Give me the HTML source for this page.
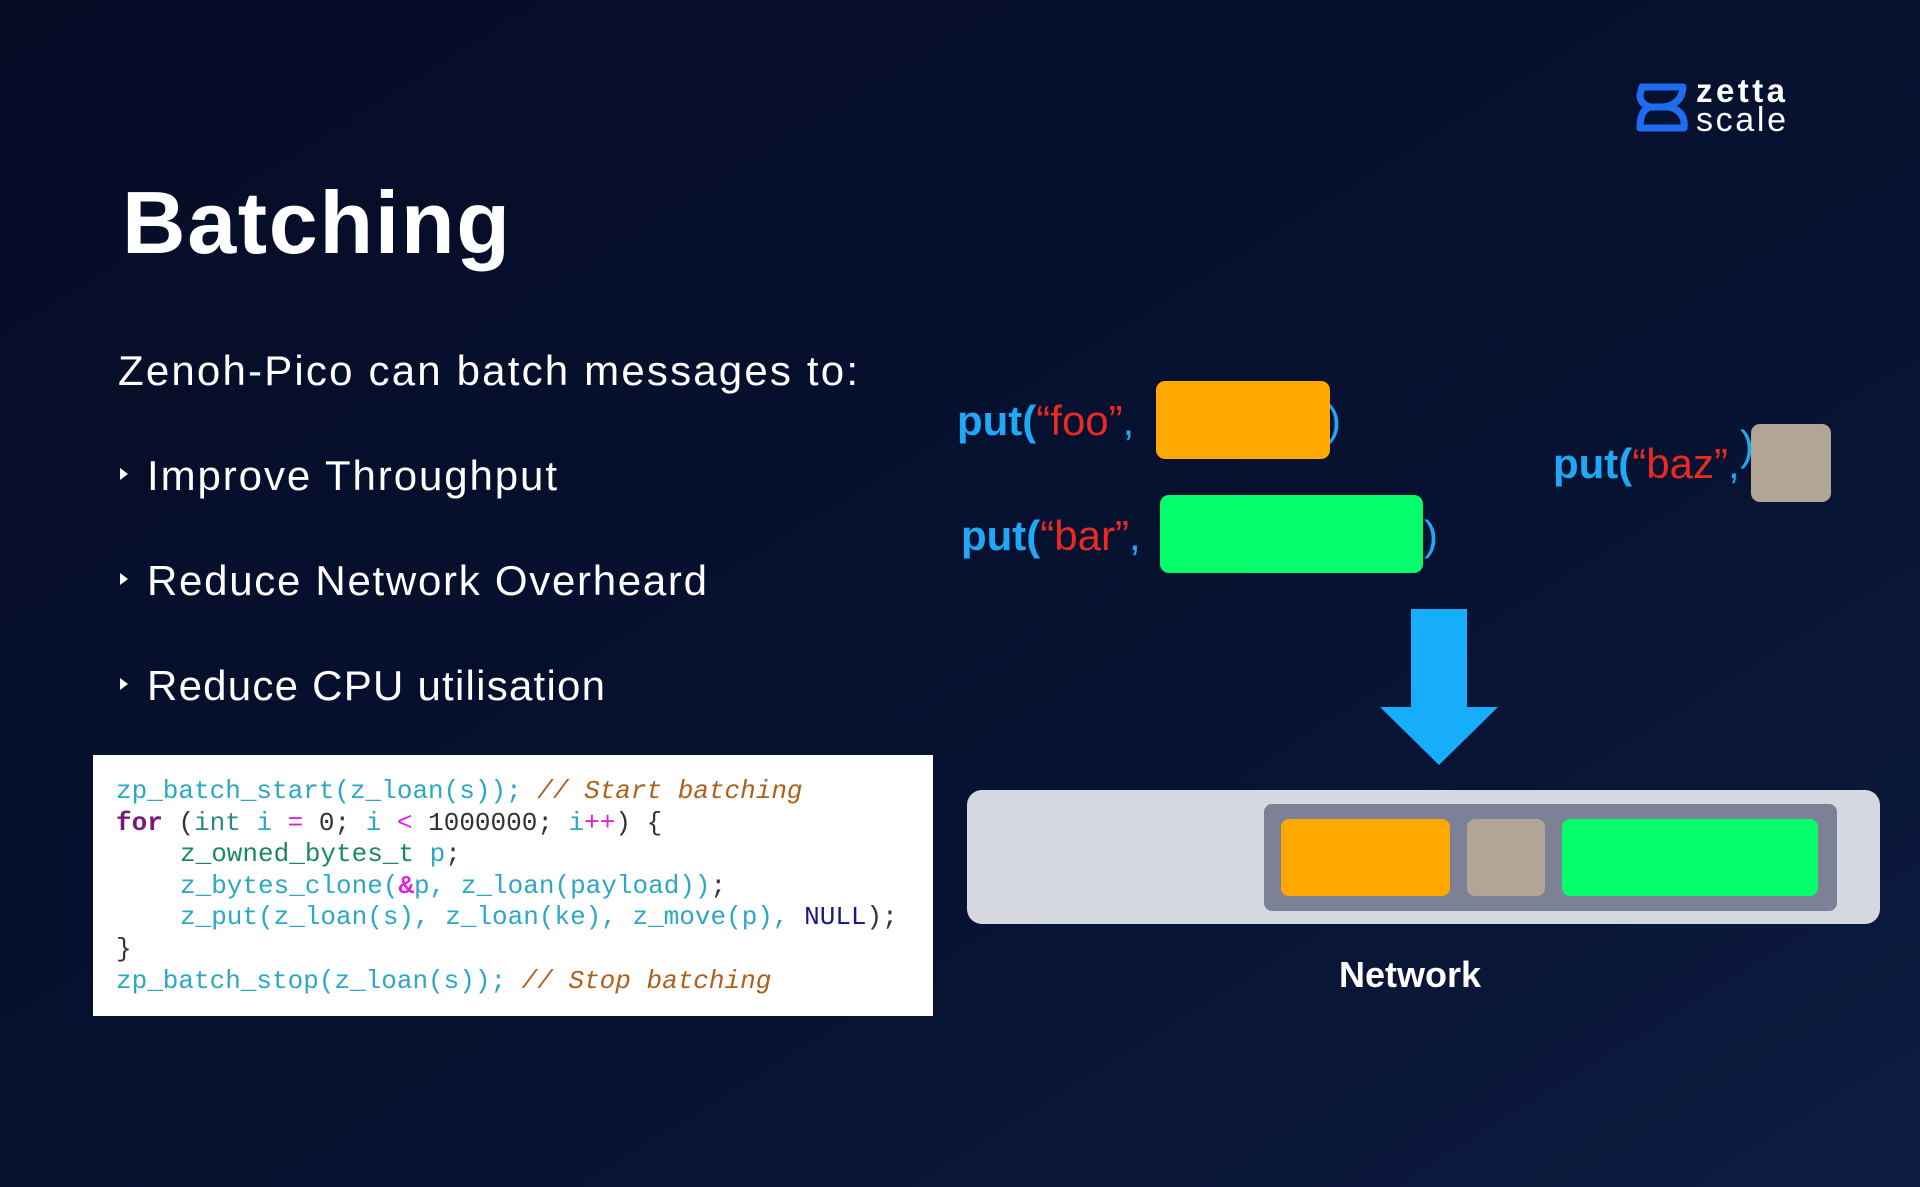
<!DOCTYPE html>
<html><head><meta charset="utf-8"><style>
html,body{margin:0;padding:0;width:1920px;height:1187px;overflow:hidden;background:#060f2c}
svg{display:block}
</style></head><body>
<svg width="1920" height="1187" viewBox="0 0 1920 1187" xmlns="http://www.w3.org/2000/svg">
<defs>
<linearGradient id="bg" x1="0" y1="0" x2="1" y2="1">
<stop offset="0" stop-color="#050c26"/><stop offset="0.6" stop-color="#071232"/><stop offset="1" stop-color="#0d1c40"/>
</linearGradient>
</defs>
<rect width="1920" height="1187" fill="url(#bg)"/>

<!-- logo -->
<g fill="none" stroke="#1e6cf0" stroke-width="7" stroke-linejoin="round">
<path d="M1642 87 L1683 87 Q1682 104 1664 107 L1650 107 Q1640 104 1640 95 Z"/>
<path d="M1650 107 L1670 107 Q1686 112 1684 128 L1640 128 Q1640 110 1650 107 Z"/>
</g>
<text x="1696" y="102" font-family="Liberation Sans, sans-serif" font-weight="bold" font-size="33" fill="#fff" textLength="89">zetta</text>
<text x="1696" y="131" font-family="Liberation Sans, sans-serif" font-size="34" fill="#fff" textLength="90">scale</text>

<g font-family="Liberation Sans, sans-serif" fill="#fff">
<text x="122" y="253" font-size="88" font-weight="bold" textLength="388">Batching</text>
<text x="118" y="385" font-size="42" textLength="740">Zenoh-Pico can batch messages to:</text>
<text x="147" y="490" font-size="42" textLength="410">Improve Throughput</text>
<text x="147" y="595" font-size="42" textLength="560">Reduce Network Overheard</text>
<text x="147" y="700" font-size="42" textLength="458">Reduce CPU utilisation</text>
</g>
<g fill="#fff">
<polygon points="120,468 128,474 120,480"/>
<polygon points="120,573 128,579 120,585"/>
<polygon points="120,678 128,684 120,690"/>
</g>

<!-- code -->
<rect x="93" y="755" width="840" height="261" fill="#fff"/>
<g font-family="Liberation Mono, monospace" font-size="26" xml:space="preserve">
<text x="116" y="798" fill="#2aa8c4">zp_batch_start(z_loan(s)); <tspan fill="#b0601a" font-style="italic">// Start batching</tspan></text>
<text x="116" y="830" fill="#2aa8c4"><tspan fill="#7a1a78" font-weight="bold">for</tspan> <tspan fill="#333">(</tspan><tspan fill="#2a8a8a">int</tspan> i <tspan fill="#e020e0">=</tspan> <tspan fill="#333">0;</tspan> i <tspan fill="#e020e0">&lt;</tspan> <tspan fill="#333">1000000;</tspan> i<tspan fill="#e020e0">++</tspan><tspan fill="#333">) {</tspan></text>
<text x="180" y="861" fill="#1a8a5a">z_owned_bytes_t <tspan fill="#2aa8c4">p</tspan><tspan fill="#333">;</tspan></text>
<text x="180" y="893" fill="#2aa8c4">z_bytes_clone(<tspan fill="#e020e0" font-weight="bold">&amp;</tspan>p, z_loan(payload))<tspan fill="#333">;</tspan></text>
<text x="180" y="924" fill="#2aa8c4">z_put(z_loan(s), z_loan(ke), z_move(p), <tspan fill="#1a1a80">NULL</tspan><tspan fill="#333">);</tspan></text>
<text x="116" y="956" fill="#333">}</text>
<text x="116" y="988" fill="#2aa8c4">zp_batch_stop(z_loan(s)); <tspan fill="#b0601a" font-style="italic">// Stop batching</tspan></text>
</g>

<!-- puts -->
<g font-family="Liberation Sans, sans-serif" font-size="42">
<text x="957" y="435"><tspan fill="#1ea8f5" font-weight="bold">put(</tspan><tspan fill="#e82a20">“foo”</tspan><tspan fill="#1ea8f5">,</tspan></text>
<text x="961" y="550"><tspan fill="#1ea8f5" font-weight="bold">put(</tspan><tspan fill="#e82a20">“bar”</tspan><tspan fill="#1ea8f5">,</tspan></text>
<text x="1553" y="478"><tspan fill="#1ea8f5" font-weight="bold">put(</tspan><tspan fill="#e82a20">“baz”</tspan><tspan fill="#1ea8f5">,</tspan></text>
<text x="1327" y="435" fill="#1ea8f5">)</text>
<text x="1424" y="550" fill="#1ea8f5">)</text>
<text x="1740" y="460" fill="#1ea8f5">)</text>
</g>
<rect x="1156" y="381" width="174" height="78" rx="9" fill="#ffa800"/>
<rect x="1160" y="495" width="263" height="78" rx="9" fill="#05ff6a"/>
<rect x="1751" y="424" width="80" height="78" rx="9" fill="#b3a596"/>

<!-- arrow -->
<polygon points="1411,609 1467,609 1467,707 1498,707 1439,765 1380,707 1411,707" fill="#16adfa"/>

<!-- network -->
<rect x="967" y="790" width="913" height="134" rx="15" fill="#d5d8e1"/>
<rect x="1264" y="804" width="573" height="107" rx="8" fill="#7d8196"/>
<rect x="1281" y="819" width="169" height="77" rx="8" fill="#ffa800"/>
<rect x="1467" y="819" width="78" height="77" rx="8" fill="#b3a596"/>
<rect x="1562" y="819" width="256" height="77" rx="8" fill="#05ff6a"/>
<text x="1410" y="987" text-anchor="middle" font-family="Liberation Sans, sans-serif" font-weight="bold" font-size="36" fill="#fff">Network</text>
</svg>
</body></html>
